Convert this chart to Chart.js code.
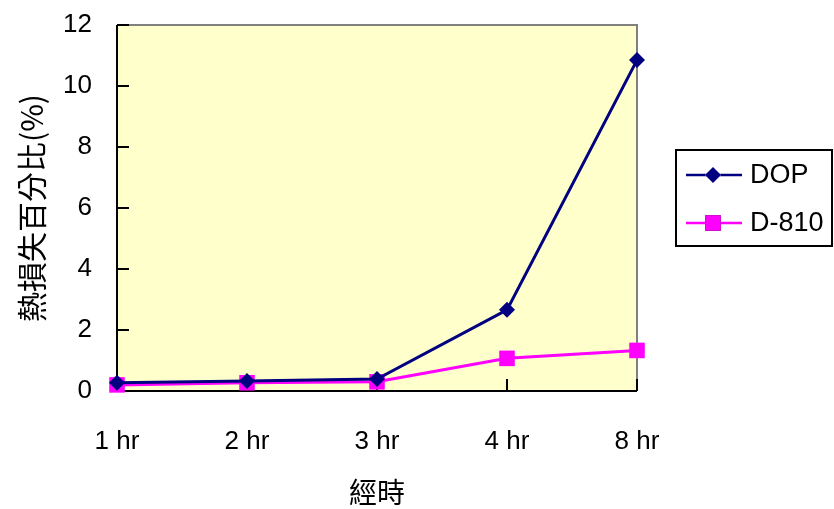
<!DOCTYPE html>
<html>
<head>
<meta charset="utf-8">
<script src="https://cdn.jsdelivr.net/npm/chart.js@4/dist/chart.umd.min.js"></script>
<style>
  html, body { margin: 0; padding: 0; background: #ffffff; }
  #wrap { width: 834px; height: 509px; position: relative; }
</style>
</head>
<body>
<div id="wrap"><canvas id="c" width="834" height="509"></canvas></div>
<script>
// Heat-loss percentage over time for two plasticizers
const categories = ['1 hr', '2 hr', '3 hr', '4 hr', '8 hr'];
const dopValues = [0.27, 0.33, 0.39, 2.66, 10.85];
const d810Values = [0.2, 0.27, 0.3, 1.07, 1.33];
const yTicks = [0, 2, 4, 6, 8, 10, 12];

const LATIN = '"Liberation Sans", Arial, sans-serif';
const CJK = '"Noto Sans CJK TC", "Noto Sans CJK SC", sans-serif';
const TICK_SIZE = 26;

// Wanted plot rectangle, and the layout values tuned to reach it
const AREA = { left: 117, top: 25, right: 637, bottom: 391 };
const fit = { top: 25, right: 197, xHeight: 118, yWidth: 117 };

// Plot background, frame and inward tick marks
const frame = {
  id: 'frame',
  beforeDatasetsDraw(chart) {
    const { ctx, chartArea: a, scales: { x, y } } = chart;
    ctx.save();
    ctx.fillStyle = '#FFFFCC';
    ctx.fillRect(a.left, a.top, a.right - a.left, a.bottom - a.top);
    ctx.lineWidth = 2;
    ctx.strokeStyle = '#808080';
    ctx.beginPath();
    ctx.moveTo(a.left, a.top);
    ctx.lineTo(a.right, a.top);
    ctx.lineTo(a.right, a.bottom);
    ctx.stroke();
    ctx.strokeStyle = '#000000';
    ctx.beginPath();
    ctx.moveTo(a.left, a.top);
    ctx.lineTo(a.left, a.bottom);
    ctx.lineTo(a.right, a.bottom);
    yTicks.forEach(v => {
      const py = y.getPixelForValue(v);
      ctx.moveTo(a.left, py);
      ctx.lineTo(a.left + 12, py);
    });
    categories.forEach((c, i) => {
      const px = x.getPixelForValue(i);
      ctx.moveTo(px, a.bottom);
      ctx.lineTo(px, a.bottom - 12);
    });
    ctx.stroke();
    ctx.restore();
  }
};

// Boxed legend on the right
const boxLegend = {
  id: 'boxLegend',
  afterDraw(chart) {
    const { ctx } = chart;
    const bx = 676, by = 150, bw = 156, bh = 96;
    ctx.save();
    ctx.fillStyle = '#ffffff';
    ctx.fillRect(bx, by, bw, bh);
    ctx.lineWidth = 2;
    ctx.strokeStyle = '#000000';
    ctx.strokeRect(bx, by, bw, bh);
    chart.data.datasets.forEach((ds, i) => {
      const cy = 175 + i * 48;
      ctx.strokeStyle = ds.borderColor;
      ctx.lineWidth = 2.5;
      ctx.beginPath();
      ctx.moveTo(686, cy);
      ctx.lineTo(742, cy);
      ctx.stroke();
      Chart.helpers.drawPoint(ctx, {
        pointStyle: ds.pointStyle,
        radius: ds.pointRadius,
        borderWidth: 0
      }, 713, cy);
      ctx.fillStyle = ds.pointBackgroundColor;
      ctx.fill();
      ctx.fillStyle = '#000000';
      ctx.font = '27px ' + LATIN;
      ctx.textAlign = 'left';
      ctx.textBaseline = 'middle';
      ctx.fillText(ds.label, 750, cy + 1);
    });
    ctx.restore();
  }
};

const chart = new Chart(document.getElementById('c'), {
  type: 'line',
  data: {
    labels: categories,
    datasets: [
      {
        label: 'DOP',
        data: dopValues,
        borderColor: '#000080',
        backgroundColor: '#000080',
        pointBackgroundColor: '#000080',
        pointBorderColor: '#000080',
        pointStyle: 'rectRot',
        pointRadius: 8,
        pointBorderWidth: 0,
        borderWidth: 3,
        tension: 0,
        clip: false
      },
      {
        label: 'D-810',
        data: d810Values,
        borderColor: '#FF00FF',
        backgroundColor: '#FF00FF',
        pointBackgroundColor: '#FF00FF',
        pointBorderColor: '#FF00FF',
        pointStyle: 'rect',
        pointRadius: 11,
        pointBorderWidth: 0,
        borderWidth: 3,
        tension: 0,
        clip: false
      }
    ]
  },
  options: {
    responsive: false,
    animation: false,
    layout: { padding: { top: fit.top, right: fit.right, left: 0, bottom: 0 } },
    plugins: {
      legend: { display: false },
      tooltip: { enabled: false }
    },
    scales: {
      x: {
        type: 'category',
        offset: false,
        grid: { display: false },
        border: { display: false },
        ticks: {
          color: '#000000',
          font: { family: LATIN, size: TICK_SIZE },
          padding: 27,
          maxRotation: 0,
          autoSkip: false
        },
        title: {
          display: true,
          text: '經時',
          color: '#000000',
          font: { family: CJK, size: 28 },
          padding: { top: 0, bottom: 0 }
        },
        afterFit(scale) { scale.height = fit.xHeight; }
      },
      y: {
        min: 0,
        max: 12,
        // invisible tick marks keep the labels clear of the axis
        grid: {
          display: true,
          drawOnChartArea: false,
          drawTicks: true,
          tickLength: 25,
          tickColor: 'rgba(0,0,0,0)',
          color: 'rgba(0,0,0,0)'
        },
        border: { display: false },
        ticks: {
          stepSize: 2,
          color: '#000000',
          font: { family: LATIN, size: TICK_SIZE },
          padding: 0
        },
        title: {
          display: true,
          text: '熱損失百分比(%)',
          color: '#000000',
          font: { family: CJK, size: 30 },
          padding: { top: 14, bottom: 0 }
        },
        afterFit(scale) { scale.width = fit.yWidth; }
      }
    }
  },
  plugins: [frame, boxLegend]
});

// Nudge the layout until the plot rectangle sits where it should
for (let i = 0; i < 4; i++) {
  const a = chart.chartArea;
  fit.top += AREA.top - a.top;
  fit.right += a.right - AREA.right;
  fit.xHeight += a.bottom - AREA.bottom;
  fit.yWidth += AREA.left - a.left;
  chart.options.layout.padding = { top: fit.top, right: fit.right, left: 0, bottom: 0 };
  chart.update();
}
</script>
</body>
</html>
